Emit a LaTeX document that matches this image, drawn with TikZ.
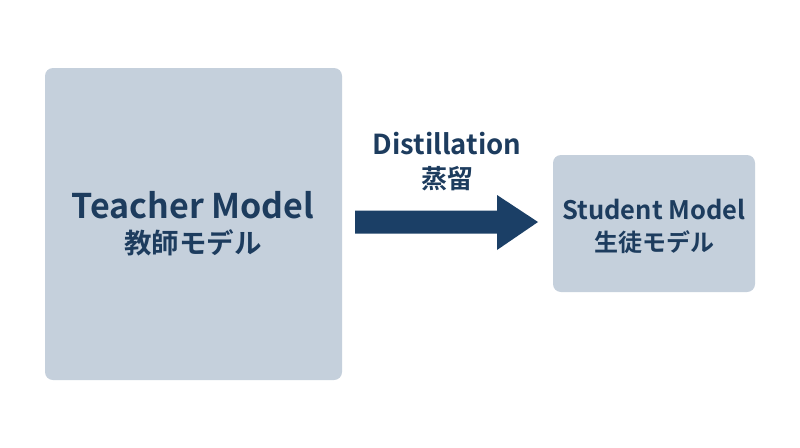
\documentclass[tikz,border=0pt]{standalone}
\usepackage{fontspec}
\setmainfont{Noto Sans CJK JP}[BoldFont={Noto Sans CJK JP Bold}]
\begin{document}
\begin{tikzpicture}[x=1pt,y=-1pt,
  box/.style={fill=boxc,rounded corners=8pt,draw=none},
  lbl/.style={text=txt,font=\bfseries,align=center,inner sep=0}]
\definecolor{boxc}{HTML}{C5D0DC}
\definecolor{txt}{HTML}{1D3C5E}
\definecolor{arr}{HTML}{1B3F66}
\useasboundingbox[fill=white] (0,0) rectangle (800,447);
\node[box,minimum width=297pt,minimum height=312pt] (t) at (193.5,224) {};
\node[box,minimum width=202pt,minimum height=137pt] (s) at (654,223.5) {};
\node[lbl,font=\bfseries\fontsize{34}{40}\selectfont] (tt) at (193,205) {Teacher Model};
\node[lbl,font=\bfseries\fontsize{27.5}{32}\selectfont] (tj) at (193,243) {教師モデル};
\node[lbl,font=\bfseries\fontsize{25.5}{30}\selectfont] (st) at (654,210) {Student Model};
\node[lbl,font=\bfseries\fontsize{24}{28}\selectfont] (sj) at (654,242) {生徒モデル};
\node[lbl,font=\bfseries\fontsize{27.5}{32}\selectfont] (d) at (447,144) {Distillation};
\node[lbl,font=\bfseries\fontsize{26}{30}\selectfont] (dj) at (447,179) {蒸留};
\coordinate (a0) at (355,222);
\coordinate (a1) at (538,222);
\fill[arr] (355,210.5) -- (497,210.5) -- (497,195) -- (a1) -- (497,250) -- (497,233.5) -- (355,233.5) -- cycle;
\end{tikzpicture}
\end{document}
